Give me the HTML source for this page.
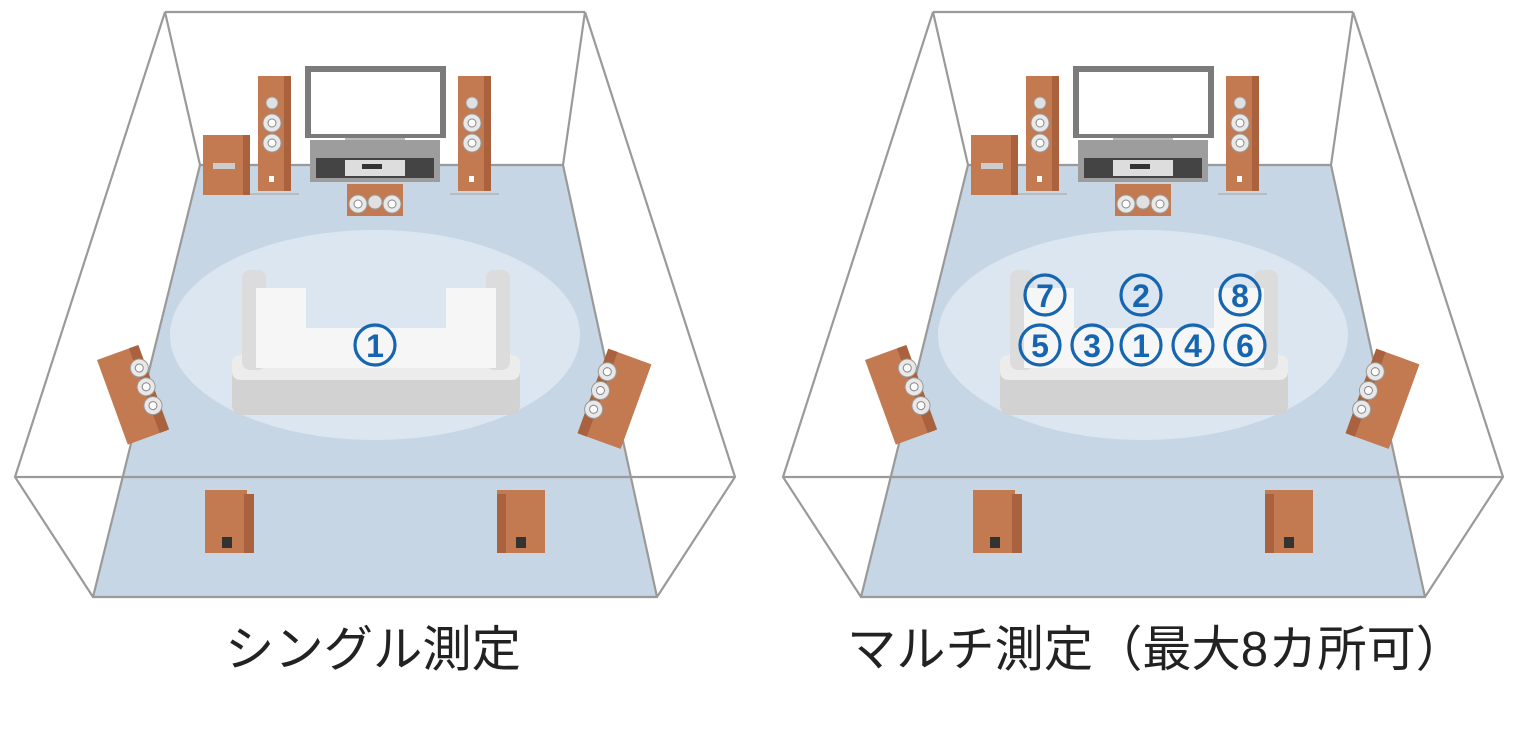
<!DOCTYPE html>
<html><head><meta charset="utf-8"><style>
html,body{margin:0;padding:0;background:#fff;width:1518px;height:750px;overflow:hidden}
svg{display:block}
</style></head><body>
<svg width="1518" height="750" viewBox="0 0 1518 750" xmlns="http://www.w3.org/2000/svg">
<defs>
<g id="drv"><circle r="9" fill="#e8e8e8" stroke="#999" stroke-width="1"/><circle r="4" fill="#fff" stroke="#888" stroke-width="1"/></g>
<g id="tall">
 <rect x="0" y="0" width="33" height="115" fill="#c47a50"/>
 <rect x="26" y="0" width="7" height="115" fill="#a9623d"/>
 <circle cx="14" cy="27" r="6" fill="#e0e0e0" stroke="#999"/>
 <use href="#drv" x="14" y="47"/>
 <use href="#drv" x="14" y="67"/>
 <rect x="11" y="100" width="5" height="6" fill="#fff"/>
 <path d="M-8 118 L41 118" stroke="#bbb" stroke-width="2"/>
</g>
<g id="room">
 <polygon points="200,165 563,165 657,597 93,597" fill="#c6d6e5"/>
 <ellipse cx="375" cy="335" rx="205" ry="105" fill="#dbe6f1"/>
 <g fill="none" stroke="#9a9a9a" stroke-width="2.2">
  <polyline points="165,12 585,12"/>
  <polyline points="165,12 200,165 563,165 585,12"/>
  <polyline points="165,12 15,477 93,597 657,597 735,477 585,12"/>
  <line x1="15" y1="477" x2="735" y2="477"/>
  <line x1="200" y1="165" x2="93" y2="597"/>
  <line x1="563" y1="165" x2="657" y2="597"/>
 </g>
 <rect x="305" y="66" width="141" height="72" fill="#7b7b7b"/>
 <rect x="311" y="72" width="129" height="62" fill="#fff"/>
 <rect x="345" y="138" width="60" height="6" fill="#bbb"/>
 <rect x="310" y="140" width="130" height="42" fill="#9d9d9d"/>
 <rect x="316" y="158" width="118" height="20" fill="#444"/>
 <rect x="345" y="160" width="60" height="16" fill="#ddd"/>
 <rect x="362" y="164" width="20" height="5" fill="#333"/>
 <rect x="203" y="135" width="47" height="60" fill="#c47a50"/>
 <rect x="243" y="135" width="7" height="60" fill="#a9623d"/>
 <rect x="213" y="163" width="22" height="6" fill="#ccc"/>
 <use href="#tall" x="258" y="76"/>
 <use href="#tall" x="458" y="76"/>
 <rect x="347" y="184" width="56" height="32" fill="#c47a50"/>
 <use href="#drv" x="358" y="204"/><circle cx="375" cy="202" r="7" fill="#e0e0e0" stroke="#999"/><use href="#drv" x="392" y="204"/>
 <g transform="translate(97,360) rotate(-20)">
  <rect width="42" height="90" fill="#c47a50"/><rect x="34" width="10" height="90" fill="#a9623d"/>
  <use href="#drv" x="37" y="22"/><use href="#drv" x="37" y="42"/><use href="#drv" x="37" y="62"/>
 </g>
 <g transform="translate(612,350) rotate(20)">
  <rect width="42" height="90" fill="#c47a50"/><rect x="-4" width="10" height="90" fill="#a9623d"/>
  <use href="#drv" x="3" y="22"/><use href="#drv" x="3" y="42"/><use href="#drv" x="3" y="62"/>
 </g>
 <rect x="205" y="490" width="42" height="63" fill="#c47a50"/><rect x="244" y="494" width="10" height="59" fill="#a9623d"/>
 <rect x="222" y="537" width="10" height="11" fill="#333"/>
 <rect x="497" y="490" width="48" height="63" fill="#c47a50"/><rect x="497" y="494" width="9" height="59" fill="#a9623d"/>
 <rect x="516" y="537" width="10" height="11" fill="#333"/>
 <rect x="232" y="355" width="288" height="60" rx="10" fill="#d2d2d2"/>
 <rect x="232" y="355" width="288" height="25" rx="8" fill="#ececec"/>
 <rect x="242" y="270" width="24" height="100" rx="8" fill="#dcdcdc"/>
 <rect x="486" y="270" width="24" height="100" rx="8" fill="#dcdcdc"/>
 <rect x="256" y="288" width="50" height="80" fill="#f6f6f6"/>
 <rect x="446" y="288" width="50" height="80" fill="#f6f6f6"/>
 <rect x="256" y="328" width="240" height="40" fill="#f6f6f6"/>
</g>
</defs>
<use href="#room"/>
<use href="#room" x="768"/>
<g fill="none" stroke="#1565b0" stroke-width="3.2">
 <circle cx="375" cy="345" r="20"/>
 <circle cx="1045" cy="295" r="20"/><circle cx="1141" cy="295" r="20"/><circle cx="1240" cy="295" r="20"/>
 <circle cx="1040" cy="345" r="20"/><circle cx="1092" cy="345" r="20"/><circle cx="1141" cy="345" r="20"/><circle cx="1193" cy="345" r="20"/><circle cx="1245" cy="345" r="20"/>
</g>
<g font-family="Liberation Sans, sans-serif" font-weight="bold" font-size="32" fill="#1565b0" text-anchor="middle">
 <text x="375" y="357">1</text>
 <text x="1045" y="307">7</text><text x="1141" y="307">2</text><text x="1240" y="307">8</text>
 <text x="1040" y="357">5</text><text x="1092" y="357">3</text><text x="1141" y="357">1</text><text x="1193" y="357">4</text><text x="1245" y="357">6</text>
</g>
<g font-family="Liberation Sans, 'Noto Sans CJK JP', sans-serif" font-size="49" fill="#222" text-anchor="middle">
 <text x="373" y="666" textLength="296" lengthAdjust="spacingAndGlyphs">シングル測定</text>
 <text x="1156" y="666" textLength="618" lengthAdjust="spacingAndGlyphs">マルチ測定（最大8カ所可）</text>
</g>
</svg>
</body></html>
